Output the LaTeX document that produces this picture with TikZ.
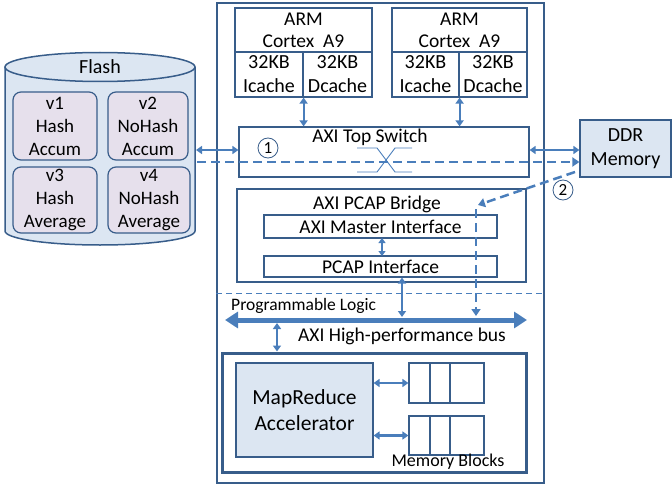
\documentclass[tikz,border=0pt]{standalone}
\usepackage{fontspec}
\setmainfont{Carlito}
\usetikzlibrary{arrows.meta}
\definecolor{bord}{HTML}{385D8A}
\definecolor{arrc}{HTML}{4A7EBB}
\definecolor{lblue}{HTML}{DCE6F2}
\definecolor{lav}{HTML}{E6E0EC}
\begin{document}
\begin{tikzpicture}[x=1pt,y=-1pt,
  box/.style={draw=bord,line width=1.2pt,inner sep=0pt,align=center,font=\fontsize{19.5}{22}\selectfont},
  vbox/.style={draw=bord,line width=1.2pt,fill=lav,rounded corners=8pt,inner sep=0pt,align=center,font=\fontsize{19}{23}\selectfont},
  txt/.style={inner sep=0pt,align=center,font=\fontsize{19.5}{22}\selectfont},
  num/.style={circle,draw=bord,line width=0.8pt,minimum size=20pt,inner sep=0pt,font=\fontsize{17}{17}\selectfont},
  dbl/.style={draw=arrc,line width=2.2pt,{Triangle[length=6pt,width=8pt]}-{Triangle[length=6pt,width=8pt]}},
  dsh/.style={draw=arrc,line width=2.5pt,dash pattern=on 9pt off 5pt,-{Triangle[length=7pt,width=9pt]}},
  busarr/.style={draw=arrc,line width=5pt,{Triangle[length=13pt,width=16pt]}-{Triangle[length=13pt,width=16pt]}}
]
\useasboundingbox (0,0) rectangle (672,487);

% Flash cylinder
\path[fill=lblue,draw=bord,line width=1.5pt] (5,67) -- (5,231) arc[start angle=180,end angle=360,x radius=95pt,y radius=14pt] -- (195,67);
\draw[fill=lblue,draw=bord,line width=1.5pt] (100,67) ellipse[x radius=95pt,y radius=14.5pt];
\node[txt,font=\fontsize{20}{24}\selectfont] (flash) at (100,67) {Flash};
\node[vbox,minimum width=84pt,minimum height=68pt] (v1) at (55,126) {v1\\Hash\\Accum};
\node[vbox,minimum width=80pt,minimum height=68pt] (v2) at (148,126) {v2\\NoHash\\Accum};
\node[vbox,minimum width=84pt,minimum height=66pt] (v3) at (55,200) {v3\\Hash\\Average};
\node[vbox,minimum width=82pt,minimum height=66pt] (v4) at (149,200) {v4\\NoHash\\Average};

% main box
\node[box,line width=1.5pt,minimum width=327pt,minimum height=480pt] (main) at (380.5,243) {};

% ARM cores
\node[box,minimum width=137pt,minimum height=44pt] (arm1) at (303.5,30) {ARM\\Cortex\ \ A9};
\node[box,font=\fontsize{20}{24}\selectfont,minimum width=68pt,minimum height=45pt] (ic1) at (269,74.5) {32KB\\Icache};
\node[box,font=\fontsize{20}{24}\selectfont,minimum width=69pt,minimum height=45pt] (dc1) at (337.5,74.5) {32KB\\Dcache};
\node[box,minimum width=135pt,minimum height=44pt] (arm2) at (459.5,30) {ARM\\Cortex\ \ A9};
\node[box,font=\fontsize{20}{24}\selectfont,minimum width=67pt,minimum height=45pt] (ic2) at (425.5,74.5) {32KB\\Icache};
\node[box,font=\fontsize{20}{24}\selectfont,minimum width=68pt,minimum height=45pt] (dc2) at (493,74.5) {32KB\\Dcache};

% AXI top switch
\node[box,minimum width=290pt,minimum height=50pt] (top) at (384,152) {};
\node[txt] (toptxt) at (370,137) {AXI Top Switch};
\node[num] (c1) at (268,148) {1};
\draw[arrc,line width=0.9pt] (357,148) -- (377,148) -- (395,172) -- (412,172);
\draw[arrc,line width=0.9pt] (357,172) -- (377,172) -- (395,148) -- (412,148);

\draw[dbl] (ic1.south east) -- (ic1.south east |- top.north);
\draw[dbl] (ic2.south east) -- (ic2.south east |- top.north);

% DDR
\node[box,fill=lblue,font=\fontsize{20}{24}\selectfont,minimum width=91pt,minimum height=57pt] (ddr) at (625.5,148.5) {DDR\\Memory};
\node[num] (c2) at (563,190) {2};

\coordinate (fl) at (196,150);
\coordinate (fd) at (197,162);
\draw[dbl] (fl) -- (fl -| top.west);
\draw[dbl] (top.east |- fl) -- (ddr.west |- fl);
\draw[dsh] (fd) -- (fd -| ddr.west);

% PCAP bridge
\node[box,minimum width=289pt,minimum height=93pt] (bridge) at (381.5,235.5) {};
\node[txt] (bridgetxt) at (377,204) {AXI PCAP Bridge};
\node[box,minimum width=233pt,minimum height=23pt] (master) at (380.5,226.5) {AXI Master Interface};
\node[box,minimum width=233pt,minimum height=21pt] (pcap) at (380.5,266.5) {PCAP Interface};
\draw[arrc,line width=2pt,{Triangle[length=5pt,width=7pt]}-{Triangle[length=5pt,width=7pt]}] (382,238) -- (382,256);

% PL boundary
\draw[arrc,line width=1pt,dash pattern=on 6pt off 4pt] (main.west |- 0,293) -- (main.east |- 0,293);
\node[txt,anchor=west,font=\fontsize{17.5}{20}\selectfont] (pl) at (231,306) {Programmable Logic};

% bus
\coordinate (busL) at (225,320);
\coordinate (busR) at (527,320);
\draw[busarr] (busL) -- (busR);
\node[txt] (bustxt) at (402,336) {AXI High-performance bus};

\draw[dbl] (402,277.5) -- (402,317);

% dashed 2
\coordinate (d2s) at (575,172);
\coordinate (d2e) at (478,205);
\coordinate (d2v) at (476,209);
\draw[dsh] (d2s) -- (d2e);
\draw[dsh] (d2v) -- (476,316);

% accelerator container
\node[draw=bord,line width=3pt,minimum width=304pt,minimum height=119pt,inner sep=0pt] (cont) at (374,412.5) {};
\node[box,fill=lblue,font=\fontsize{21.5}{26}\selectfont,minimum width=137pt,minimum height=94pt] (acc) at (304.5,410) {MapReduce\\Accelerator};
\node[box,minimum width=75pt,minimum height=40pt] (mb1) at (446.5,383) {};
\node[box,minimum width=75pt,minimum height=39pt] (mb2) at (446.5,435.5) {};
\draw[bord,line width=1.2pt] (430,363) -- (430,403) (450,363) -- (450,403);
\draw[bord,line width=1.2pt] (430,416) -- (430,455) (450,416) -- (450,455);
\node[txt,font=\fontsize{18}{21}\selectfont] (mbtxt) at (448,462) {Memory Blocks};

\coordinate (bp) at (277,323);
\draw[dbl] (acc.east |- mb1.west) -- (mb1.west);
\draw[dbl] (acc.east |- mb2.west) -- (mb2.west);
\draw[dbl] (bp) -- (bp |- cont.north);
\end{tikzpicture}
\end{document}
